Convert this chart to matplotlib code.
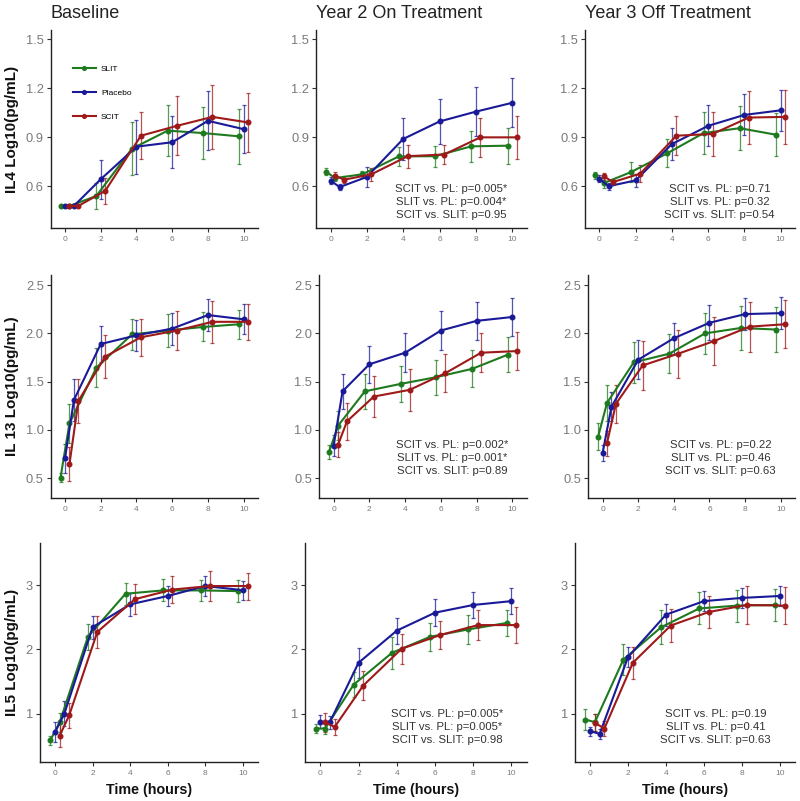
import numpy as np
import matplotlib
matplotlib.use("Agg")
import matplotlib.pyplot as plt

plt.rcParams['font.family'] = ['Liberation Sans', 'DejaVu Sans']

# ---- data ----
times = [0, 0.5, 2, 4, 6, 8, 10]
groups = ["SLIT", "Placebo", "SCIT"]
group_colors = {"SLIT": "#1f7a1f", "Placebo": "#1a1a99", "SCIT": "#9e1a1a"}
group_offsets = {"SLIT": -0.25, "Placebo": 0.0, "SCIT": 0.25}

col_titles = ["Baseline", "Year 2 On Treatment", "Year 3 Off Treatment"]
row_labels = ["IL4 Log10(pg/mL)", "IL 13 Log10(pg/mL)", "IL5 Log10(pg/mL)"]
row_yticks = [[0.6, 0.9, 1.2, 1.5], [0.5, 1.0, 1.5, 2.0, 2.5], [1, 2, 3]]
row_yticklabels = [["0.6", "0.9", "1.2", "1.5"], ["0.5", "1.0", "1.5", "2.0", "2.5"], ["1", "2", "3"]]
row_ylims = [(0.345, 1.555), (0.295, 2.605), (0.245, 3.655)]
x_ticks = [0, 2, 4, 6, 8, 10]

# IL4
il4_base_slit = [0.48, 0.48, 0.54, 0.83, 0.94, 0.925, 0.905]
il4_base_slit_err = [0.005, 0.005, 0.08, 0.16, 0.155, 0.16, 0.17]
il4_base_pl = [0.48, 0.48, 0.643, 0.842, 0.869, 1.0, 0.949]
il4_base_pl_err = [0.005, 0.005, 0.12, 0.165, 0.16, 0.18, 0.145]
il4_base_scit = [0.48, 0.48, 0.572, 0.909, 0.969, 1.024, 0.99]
il4_base_scit_err = [0.005, 0.005, 0.08, 0.145, 0.18, 0.195, 0.18]

il4_y2_slit = [0.69, 0.65, 0.673, 0.782, 0.784, 0.844, 0.848]
il4_y2_slit_err = [0.02, 0.02, 0.02, 0.06, 0.065, 0.095, 0.11]
il4_y2_pl = [0.635, 0.595, 0.657, 0.889, 0.996, 1.056, 1.11]
il4_y2_pl_err = [0.02, 0.02, 0.06, 0.13, 0.135, 0.15, 0.15]
il4_y2_scit = [0.665, 0.64, 0.673, 0.784, 0.794, 0.899, 0.899]
il4_y2_scit_err = [0.02, 0.02, 0.04, 0.07, 0.06, 0.12, 0.13]

il4_y3_slit = [0.667, 0.62, 0.687, 0.802, 0.925, 0.955, 0.915]
il4_y3_slit_err = [0.02, 0.03, 0.06, 0.085, 0.13, 0.135, 0.13]
il4_y3_pl = [0.647, 0.60, 0.636, 0.858, 0.969, 1.036, 1.064]
il4_y3_pl_err = [0.02, 0.02, 0.04, 0.10, 0.125, 0.125, 0.125]
il4_y3_scit = [0.66, 0.626, 0.677, 0.909, 0.92, 1.02, 1.024]
il4_y3_scit_err = [0.02, 0.02, 0.05, 0.12, 0.135, 0.16, 0.165]

# IL13
il13_base_slit = [0.507, 1.068, 1.644, 1.99, 2.03, 2.067, 2.095]
il13_base_slit_err = [0.05, 0.2, 0.2, 0.16, 0.17, 0.15, 0.15]
il13_base_pl = [0.705, 1.31, 1.89, 1.98, 2.05, 2.19, 2.146]
il13_base_pl_err = [0.15, 0.22, 0.19, 0.16, 0.165, 0.17, 0.155]
il13_base_scit = [0.646, 1.30, 1.76, 1.96, 2.03, 2.12, 2.12]
il13_base_scit_err = [0.18, 0.225, 0.22, 0.19, 0.2, 0.22, 0.185]

il13_y2_slit = [0.774, 1.044, 1.40, 1.477, 1.547, 1.633, 1.78]
il13_y2_slit_err = [0.07, 0.15, 0.18, 0.19, 0.18, 0.19, 0.18]
il13_y2_pl = [0.836, 1.40, 1.68, 1.80, 2.03, 2.13, 2.17]
il13_y2_pl_err = [0.11, 0.18, 0.19, 0.2, 0.2, 0.2, 0.2]
il13_y2_scit = [0.847, 1.09, 1.346, 1.415, 1.588, 1.80, 1.817]
il13_y2_scit_err = [0.13, 0.19, 0.21, 0.22, 0.2, 0.2, 0.2]

il13_y3_slit = [0.93, 1.28, 1.70, 1.79, 2.00, 2.056, 2.04]
il13_y3_slit_err = [0.14, 0.19, 0.21, 0.2, 0.21, 0.23, 0.23]
il13_y3_pl = [0.76, 1.24, 1.727, 1.95, 2.11, 2.20, 2.21]
il13_y3_pl_err = [0.08, 0.15, 0.2, 0.16, 0.18, 0.165, 0.165]
il13_y3_scit = [0.864, 1.27, 1.668, 1.79, 1.92, 2.07, 2.095]
il13_y3_scit_err = [0.13, 0.2, 0.25, 0.25, 0.25, 0.26, 0.25]

# IL5
il5_base_slit = [0.584, 0.865, 2.195, 2.865, 2.917, 2.917, 2.906]
il5_base_slit_err = [0.07, 0.15, 0.2, 0.17, 0.17, 0.16, 0.17]
il5_base_pl = [0.709, 1.0, 2.345, 2.70, 2.83, 2.985, 2.92]
il5_base_pl_err = [0.16, 0.2, 0.18, 0.18, 0.15, 0.16, 0.15]
il5_base_scit = [0.657, 0.97, 2.27, 2.78, 2.93, 2.985, 2.985]
il5_base_scit_err = [0.18, 0.19, 0.25, 0.23, 0.21, 0.23, 0.21]

il5_y2_slit = [0.766, 0.766, 1.45, 1.945, 2.195, 2.31, 2.41]
il5_y2_slit_err = [0.07, 0.08, 0.2, 0.25, 0.22, 0.23, 0.2]
il5_y2_pl = [0.87, 0.865, 1.79, 2.29, 2.57, 2.69, 2.75]
il5_y2_pl_err = [0.1, 0.1, 0.23, 0.2, 0.21, 0.2, 0.2]
il5_y2_scit = [0.865, 0.79, 1.436, 2.007, 2.22, 2.377, 2.377]
il5_y2_scit_err = [0.15, 0.12, 0.22, 0.23, 0.22, 0.24, 0.28]

il5_y3_slit = [0.906, 0.865, 1.84, 2.345, 2.636, 2.68, 2.69]
il5_y3_slit_err = [0.17, 0.13, 0.24, 0.26, 0.25, 0.25, 0.25]
il5_y3_pl = [0.725, 0.683, 1.88, 2.54, 2.75, 2.80, 2.83]
il5_y3_pl_err = [0.07, 0.08, 0.15, 0.17, 0.16, 0.16, 0.16]
il5_y3_scit = [0.855, 0.766, 1.79, 2.37, 2.58, 2.69, 2.68]
il5_y3_scit_err = [0.13, 0.12, 0.25, 0.26, 0.25, 0.29, 0.29]

annotations = {
    (0, 1): ["SCIT vs. PL: p=0.005*", "SLIT vs. PL: p=0.004*", "SCIT vs. SLIT: p=0.95"],
    (0, 2): ["SCIT vs. PL: p=0.71", "SLIT vs. PL: p=0.32", "SCIT vs. SLIT: p=0.54"],
    (1, 1): ["SCIT vs. PL: p=0.002*", "SLIT vs. PL: p=0.001*", "SCIT vs. SLIT: p=0.89"],
    (1, 2): ["SCIT vs. PL: p=0.22", "SLIT vs. PL: p=0.46", "SCIT vs. SLIT: p=0.63"],
    (2, 1): ["SCIT vs. PL: p=0.005*", "SLIT vs. PL: p=0.005*", "SCIT vs. SLIT: p=0.98"],
    (2, 2): ["SCIT vs. PL: p=0.19", "SLIT vs. PL: p=0.41", "SCIT vs. SLIT: p=0.63"],
}
annot_y = [0.13, 0.18, 0.16]

data = [
    [
        {"SLIT": (il4_base_slit, il4_base_slit_err), "Placebo": (il4_base_pl, il4_base_pl_err), "SCIT": (il4_base_scit, il4_base_scit_err)},
        {"SLIT": (il4_y2_slit, il4_y2_slit_err), "Placebo": (il4_y2_pl, il4_y2_pl_err), "SCIT": (il4_y2_scit, il4_y2_scit_err)},
        {"SLIT": (il4_y3_slit, il4_y3_slit_err), "Placebo": (il4_y3_pl, il4_y3_pl_err), "SCIT": (il4_y3_scit, il4_y3_scit_err)},
    ],
    [
        {"SLIT": (il13_base_slit, il13_base_slit_err), "Placebo": (il13_base_pl, il13_base_pl_err), "SCIT": (il13_base_scit, il13_base_scit_err)},
        {"SLIT": (il13_y2_slit, il13_y2_slit_err), "Placebo": (il13_y2_pl, il13_y2_pl_err), "SCIT": (il13_y2_scit, il13_y2_scit_err)},
        {"SLIT": (il13_y3_slit, il13_y3_slit_err), "Placebo": (il13_y3_pl, il13_y3_pl_err), "SCIT": (il13_y3_scit, il13_y3_scit_err)},
    ],
    [
        {"SLIT": (il5_base_slit, il5_base_slit_err), "Placebo": (il5_base_pl, il5_base_pl_err), "SCIT": (il5_base_scit, il5_base_scit_err)},
        {"SLIT": (il5_y2_slit, il5_y2_slit_err), "Placebo": (il5_y2_pl, il5_y2_pl_err), "SCIT": (il5_y2_scit, il5_y2_scit_err)},
        {"SLIT": (il5_y3_slit, il5_y3_slit_err), "Placebo": (il5_y3_pl, il5_y3_pl_err), "SCIT": (il5_y3_scit, il5_y3_scit_err)},
    ],
]

# ---- layout (pixel boxes: left, right, top, bottom) ----
W, H = 800, 801
boxes = [
    [(50.7, 258, 30, 228), (316, 526.7, 30, 228), (585, 795, 30, 228)],
    [(50.7, 258, 275, 498), (319.3, 526.7, 275, 498), (588.3, 795, 275, 498)],
    [(40, 258, 543, 762), (305, 526.7, 543, 762), (575, 795, 543, 762)],
]

fig = plt.figure(figsize=(W / 100, H / 100), dpi=100)
tick_gray = "#7a7a7a"

for r in range(3):
    for c in range(3):
        l, rt, t, b = boxes[r][c]
        ax = fig.add_axes([l / W, 1 - b / H, (rt - l) / W, (b - t) / H])
        for g in groups:
            vals, errs = data[r][c][g]
            xs = np.array(times) + group_offsets[g]
            col = group_colors[g]
            ax.errorbar(xs, vals, yerr=errs, fmt='none', ecolor=col, elinewidth=0.9,
                        capsize=1.5, capthick=0.9, alpha=0.75, zorder=2)
            ax.plot(xs, vals, '-o', color=col, lw=1.5, ms=3.3, label=g, zorder=3)
        ax.set_xlim(-0.8, 10.8)
        ax.set_ylim(*row_ylims[r])
        ax.set_xticks(x_ticks)
        ax.set_xticklabels([str(v) for v in x_ticks])
        ax.set_yticks(row_yticks[r])
        ax.set_yticklabels(row_yticklabels[r])
        ax.tick_params(axis='x', labelsize=6, colors="#333333", labelcolor=tick_gray, length=3, width=0.8, pad=3)
        ax.tick_params(axis='y', labelsize=9.3, colors="#333333", labelcolor=tick_gray, length=3, width=0.8, pad=2)
        for s in ['top', 'right']:
            ax.spines[s].set_visible(False)
        for s in ['left', 'bottom']:
            ax.spines[s].set_color('#222222')
            ax.spines[s].set_linewidth(1.0)
        if r == 0:
            ax.set_title(col_titles[c], loc='left', fontsize=13, color='#222222', pad=9, x=0.0)
        if c == 0:
            ax.set_ylabel(row_labels[r], fontsize=11, fontweight='bold', color='#111111', labelpad=5)
        if r == 2:
            ax.set_xlabel("Time (hours)", fontsize=10.3, fontweight='bold', color='#111111', labelpad=4)
        if (r, c) in annotations:
            ax.text(0.64, annot_y[r], "\n".join(annotations[(r, c)]), transform=ax.transAxes,
                    ha='center', va='center', multialignment='center', fontsize=8.2,
                    color='#333333', linespacing=1.4)
        if r == 0 and c == 0:
            ax.legend(loc='upper left', bbox_to_anchor=(0.07, 0.86), frameon=False,
                      fontsize=6, handlelength=2.8, labelspacing=1.95, markerscale=0.8,
                      handletextpad=0.6)

fig.savefig("out.png", dpi=100)
